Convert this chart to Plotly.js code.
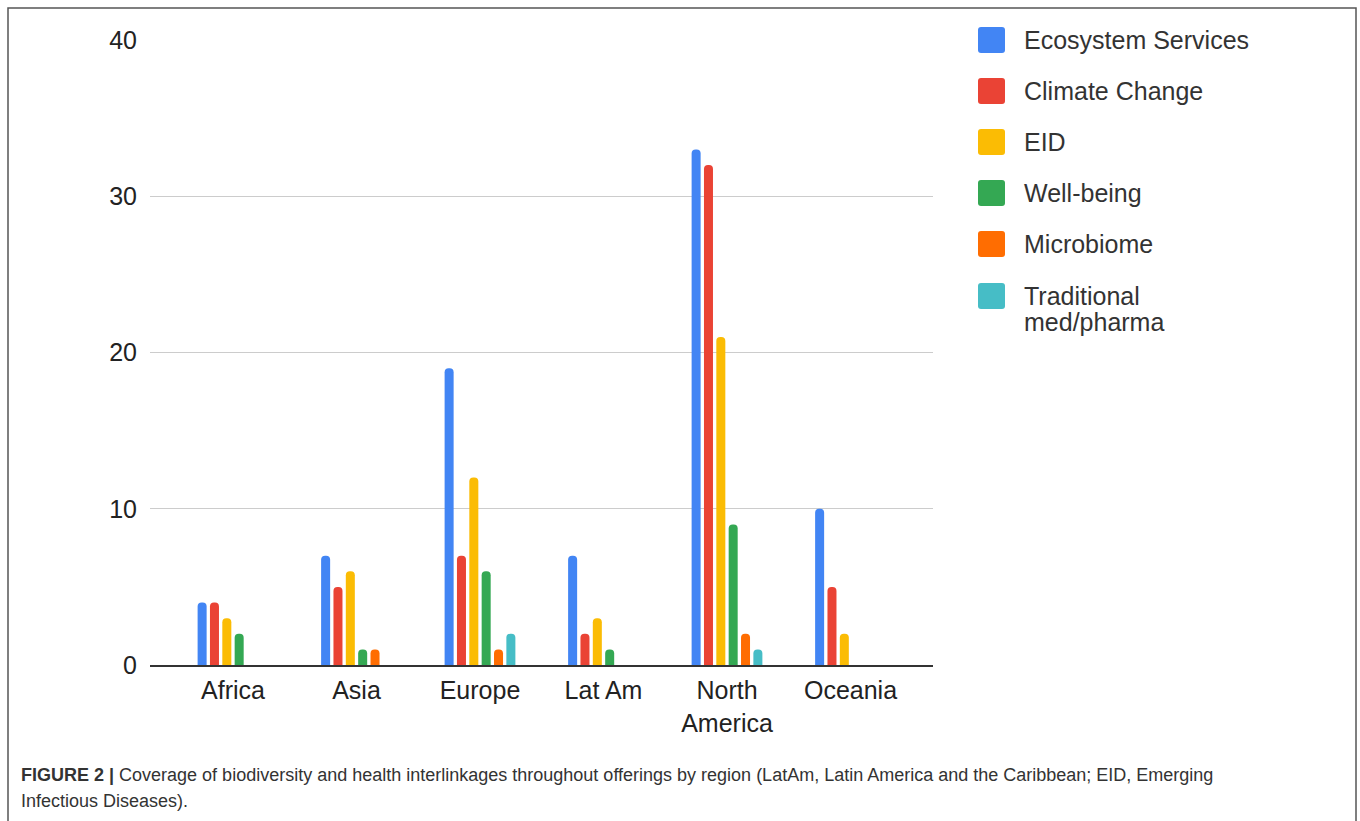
<!DOCTYPE html>
<html>
<head>
<meta charset="utf-8">
<script src="https://cdn.plot.ly/plotly-3.0.1.min.js"></script>
<style>html,body{margin:0;padding:0;background:#fff;}#chart{width:1360px;height:821px;}</style>
</head>
<body>
<div id="chart"></div>
<script>
const categories = ["Africa", "Asia", "Europe", "Lat Am", "North<br>America", "Oceania"];
const seriesNames = ["Ecosystem Services", "Climate Change", "EID", "Well-being", "Microbiome", "Traditional<br>med/pharma"];
const ecosystemServices = [4, 7, 19, 7, 33, 10];
const climateChange = [4, 5, 7, 2, 32, 5];
const eid = [3, 6, 12, 3, 21, 2];
const wellBeing = [2, 1, 6, 1, 9, 0];
const microbiome = [0, 1, 1, 0, 2, 0];
const traditionalMed = [0, 0, 2, 0, 1, 0];
const yTicks = [0, 10, 20, 30, 40];
const colors = ["#4285F4", "#EA4335", "#FBBC04", "#34A853", "#FF6D01", "#46BDC6"];
const captionLines = [
  "<b>FIGURE 2 |</b> Coverage of biodiversity and health interlinkages throughout offerings by region (LatAm, Latin America and the Caribbean; EID, Emerging",
  "Infectious Diseases)."
];

const seriesValues = [ecosystemServices, climateChange, eid, wellBeing, microbiome, traditionalMed];

const W = 1360, H = 821;
const L = 150, R = 933, T = 40, B = 665;
const px = x => (x - L) / (R - L);
const py = y => (B - y) / (B - T);

const traces = seriesValues.map((vals, i) => ({
  type: "bar",
  name: seriesNames[i].replace("<br>", " "),
  x: categories,
  y: vals,
  marker: { color: colors[i], cornerradius: 4, line: { width: 0 } },
  showlegend: false,
  hoverinfo: "x+y+name"
}));

const shapes = [];
const annotations = [];
const textFont = "Liberation Sans, Arial, sans-serif";

// figure frame (open at bottom)
shapes.push({ type: "rect", xref: "paper", yref: "paper", x0: px(8), x1: px(1356), y0: py(835), y1: py(8),
  line: { color: "#555", width: 1.5 }, fillcolor: "rgba(0,0,0,0)", layer: "below" });

// legend
const legendY = [40, 91, 142, 193, 244, 296];
seriesNames.forEach((name, i) => {
  const cy = legendY[i];
  shapes.push({ type: "path", xref: "paper", yref: "paper",
    path: roundedRect(978, cy - 13, 1005, cy + 13, 3),
    fillcolor: colors[i], line: { width: 0 } });
  name.split("<br>").forEach((line, k) => {
    annotations.push({ xref: "paper", yref: "paper", x: px(1022), y: py(cy + 26 * k),
      xanchor: "left", yanchor: "middle", align: "left", showarrow: false, text: line,
      font: { family: textFont, size: 25, color: "#333" } });
  });
});

function roundedRect(x0, y0, x1, y1, r) {
  const X = v => px(v), Y = v => py(v);
  return `M ${X(x0 + r)} ${Y(y0)} L ${X(x1 - r)} ${Y(y0)} Q ${X(x1)} ${Y(y0)} ${X(x1)} ${Y(y0 + r)} ` +
    `L ${X(x1)} ${Y(y1 - r)} Q ${X(x1)} ${Y(y1)} ${X(x1 - r)} ${Y(y1)} L ${X(x0 + r)} ${Y(y1)} ` +
    `Q ${X(x0)} ${Y(y1)} ${X(x0)} ${Y(y1 - r)} L ${X(x0)} ${Y(y0 + r)} Q ${X(x0)} ${Y(y0)} ${X(x0 + r)} ${Y(y0)} Z`;
}

// caption
const captionY = [775, 801];
captionLines.forEach((line, k) => {
  annotations.push({ xref: "paper", yref: "paper", x: px(19), y: py(captionY[k]), xanchor: "left", yanchor: "middle", align: "left",
    showarrow: false, text: line,
    font: { family: textFont, size: 18, color: "#333" } });
});

const layout = {
  width: W, height: H,
  margin: { l: L, r: W - R, t: T, b: H - B, pad: 0 },
  paper_bgcolor: "#fff", plot_bgcolor: "#fff",
  barmode: "group", bargap: 0.4, bargroupgap: 0.27,
  font: { family: textFont, size: 25, color: "#222" },
  xaxis: { type: "category", range: [-0.672, 5.668], showgrid: false, showline: true, linecolor: "#333", linewidth: 2,
    ticks: "", tickfont: { size: 25, color: "#222" }, ticklabelstandoff: 2, fixedrange: true },
  yaxis: { range: [0, 40], tickvals: yTicks, ticktext: yTicks.map(String), showgrid: true, gridcolor: "#ccc", gridwidth: 1,
    zeroline: false, showline: false, ticks: "", tickfont: { size: 25, color: "#222" }, ticklabelstandoff: 12, fixedrange: true },
  shapes: shapes,
  annotations: annotations,
  showlegend: false
};

Plotly.newPlot("chart", traces, layout, { displayModeBar: false, staticPlot: true });
</script>
</body>
</html>
